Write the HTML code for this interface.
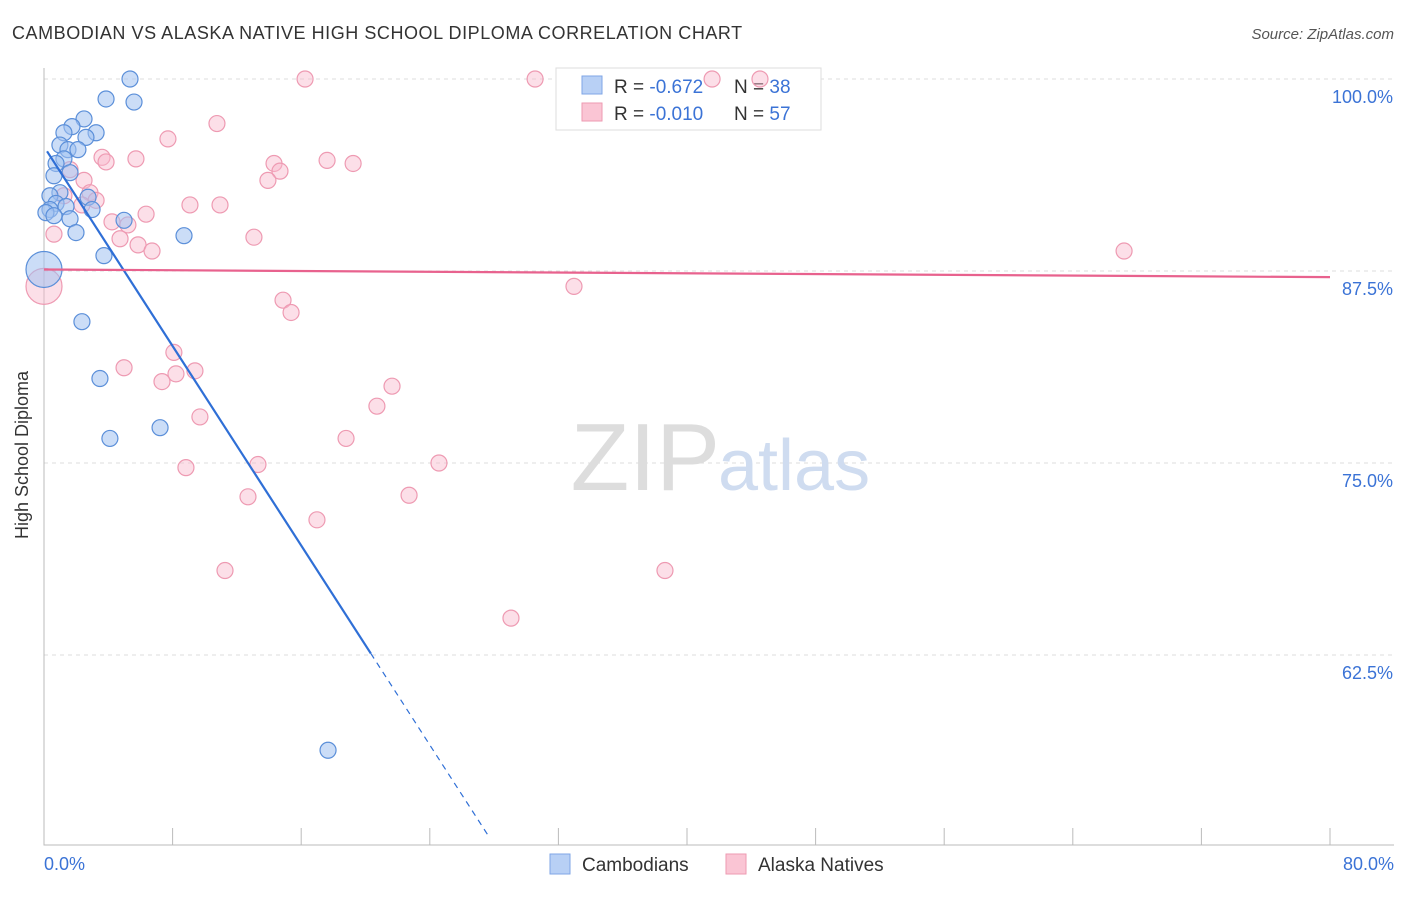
<!DOCTYPE html>
<html><head><meta charset="utf-8"><style>
body{margin:0;background:#fff;font-family:"Liberation Sans",sans-serif;}
svg text{font-family:"Liberation Sans",sans-serif;}
</style></head><body>
<svg width="1406" height="892" viewBox="0 0 1406 892">
<text x="12" y="39" font-size="18" fill="#333" letter-spacing="0.55">CAMBODIAN VS ALASKA NATIVE HIGH SCHOOL DIPLOMA CORRELATION CHART</text>
<text x="1394" y="39" font-size="15" fill="#555" text-anchor="end" font-style="italic">Source: ZipAtlas.com</text>
<g id="grid"></g>
<text x="720" y="490" font-size="96" fill="#ddd" text-anchor="end" font-family="Liberation Serif">ZIP</text>
<text x="718" y="490" font-size="72" fill="#cfdcf0">atlas</text>
<g>
<rect x="556" y="68" width="265" height="62" fill="#fff" stroke="#ddd"/>
<rect x="582" y="76" width="20" height="18" fill="#b8d0f5" stroke="#7fa6e6"/>
<rect x="582" y="103" width="20" height="18" fill="#fac5d4" stroke="#ee9ab2"/>
<text x="614" y="93" font-size="19" fill="#333">R = <tspan fill="#3b73d6">-0.672</tspan></text>
<text x="734" y="93" font-size="19" fill="#333">N = <tspan fill="#3b73d6">38</tspan></text>
<text x="614" y="120" font-size="19" fill="#333">R = <tspan fill="#3b73d6">-0.010</tspan></text>
<text x="734" y="120" font-size="19" fill="#333">N = <tspan fill="#3b73d6">57</tspan></text>
</g>
<g id="pts"></g>
<g id="lines"></g>
<text x="28" y="455" font-size="18" fill="#333" text-anchor="middle" transform="rotate(-90 28 455)">High School Diploma</text>
<text x="44" y="870" font-size="18" fill="#3b73d6">0.0%</text>
<text x="1394" y="870" font-size="18" fill="#3b73d6" text-anchor="end">80.0%</text>
<g>
<rect x="550" y="854" width="20" height="20" fill="#b8d0f5" stroke="#7fa6e6"/>
<text x="582" y="871" font-size="19" fill="#333">Cambodians</text>
<rect x="726" y="854" width="20" height="20" fill="#fac5d4" stroke="#ee9ab2"/>
<text x="758" y="871" font-size="19" fill="#333">Alaska Natives</text>
</g>
</svg>
<script>
const yTicks=[100,87.5,75,62.5];
const yTickLabels=["100.0%","87.5%","75.0%","62.5%"];
const xTicks=[0,8,16,24,32,40,48,56,64,72,80];
const blueX=[5.35,3.86,5.6,2.49,1.74,1.24,3.24,2.61,0.99,1.49,2.11,1.24,0.75,1.62,0.62,0.99,0.37,2.74,0.75,1.37,0.37,2.99,0.12,0.62,1.62,4.98,1.99,8.71,3.73,0.0,2.36,3.48,7.22,4.1,17.67];
const blueY=[100,98.7,98.5,97.4,96.9,96.5,96.5,96.2,95.7,95.4,95.4,94.8,94.5,93.9,93.7,92.6,92.4,92.3,91.9,91.7,91.5,91.5,91.3,91.1,90.9,90.8,90.0,89.8,88.5,87.6,84.2,80.5,77.3,76.6,56.3];
const pinkX=[16.24,30.55,41.56,44.54,7.71,10.76,3.61,3.86,5.72,14.31,14.68,13.93,17.61,19.23,1.62,2.49,2.86,3.24,1.24,2.36,9.08,10.95,6.35,4.23,5.22,0.62,4.73,5.85,6.72,13.06,67.19,0.0,32.97,14.87,15.37,8.08,4.98,9.39,8.21,7.34,21.65,20.71,9.7,18.79,8.83,13.31,24.57,12.69,22.71,16.98,11.26,38.63,29.05];
const pinkY=[100,100,100,100,96.1,97.1,94.9,94.6,94.8,94.5,94.0,93.4,94.7,94.5,94.1,93.4,92.6,92.1,92.4,91.8,91.8,91.8,91.2,90.7,90.5,89.9,89.6,89.2,88.8,89.7,88.8,86.5,86.5,85.6,84.8,82.2,81.2,81.0,80.8,80.3,80.0,78.7,78.0,76.6,74.7,74.9,75.0,72.8,72.9,71.3,68.0,68.0,64.9];
const X=v=>44+v/80*1286, Y=v=>79+(100-v)/12.5*192;
const NS="http://www.w3.org/2000/svg";
const grid=document.getElementById('grid');
yTicks.forEach((t,i)=>{
 const l=document.createElementNS(NS,'line');
 
 
 l.setAttribute('x1',44);l.setAttribute('x2',1394);l.setAttribute('y1',Y(t));l.setAttribute('y2',Y(t));
 l.setAttribute('stroke','#ddd');l.setAttribute('stroke-dasharray','4 4');grid.appendChild(l);
 const tx=document.createElementNS(NS,'text');
 
 
 tx.setAttribute('x',1393);tx.setAttribute('y',Y(t)+24);tx.setAttribute('text-anchor','end');
 tx.setAttribute('font-size','18');tx.setAttribute('fill','#3b73d6');tx.textContent=yTickLabels[i];grid.appendChild(tx);
});
const ax=document.createElementNS(NS,'path');


ax.setAttribute('d','M44,68V845H1394');ax.setAttribute('stroke','#bbb');ax.setAttribute('fill','none');grid.appendChild(ax);
xTicks.forEach(t=>{
 const l=document.createElementNS(NS,'line');
 
 
 l.setAttribute('x1',X(t));l.setAttribute('x2',X(t));l.setAttribute('y1',828);l.setAttribute('y2',845);
 l.setAttribute('stroke','#bbb');grid.appendChild(l);
});
const pts=document.getElementById('pts');
function dot(x,y,r,fill,stroke,name){
 const c=document.createElementNS(NS,'circle');
 
 
 c.setAttribute('cx',X(x));c.setAttribute('cy',Y(y));c.setAttribute('r',r);
 c.setAttribute('fill',fill);c.setAttribute('stroke',stroke);c.setAttribute('stroke-width','1.2');pts.appendChild(c);
}
pinkX.forEach((x,i)=>dot(x,pinkY[i],(x===0?18:8),'rgba(248,183,203,0.45)','#ee9ab2','alaska-native-point'));
blueX.forEach((x,i)=>dot(x,blueY[i],(x===0?18:8),'rgba(160,193,240,0.55)','#5b8fd9','cambodian-point'));
const lines=document.getElementById('lines');
function ln(x1,y1,x2,y2,col,dash,name){
 const l=document.createElementNS(NS,'line');
 
 
 l.setAttribute('x1',X(x1));l.setAttribute('y1',Y(y1));l.setAttribute('x2',X(x2));l.setAttribute('y2',Y(y2));
 l.setAttribute('stroke',col);l.setAttribute('stroke-width',dash?1.2:2.2);if(dash)l.setAttribute('stroke-dasharray','6 5');lines.appendChild(l);
}
const blueB=95.6, blueM=-(95.6-62.6)/20.33;
ln(0.19,blueB+blueM*0.19,20.33,blueB+blueM*20.33,'#2f6fd6',false,'cambodian-trend-line');
ln(20.33,blueB+blueM*20.33,27.7,blueB+blueM*27.7,'#2f6fd6',true,'cambodian-trend-extension');
ln(0,87.6,80,87.1,'#e8628e',false,'alaska-native-trend-line');
</script>
</body></html>
